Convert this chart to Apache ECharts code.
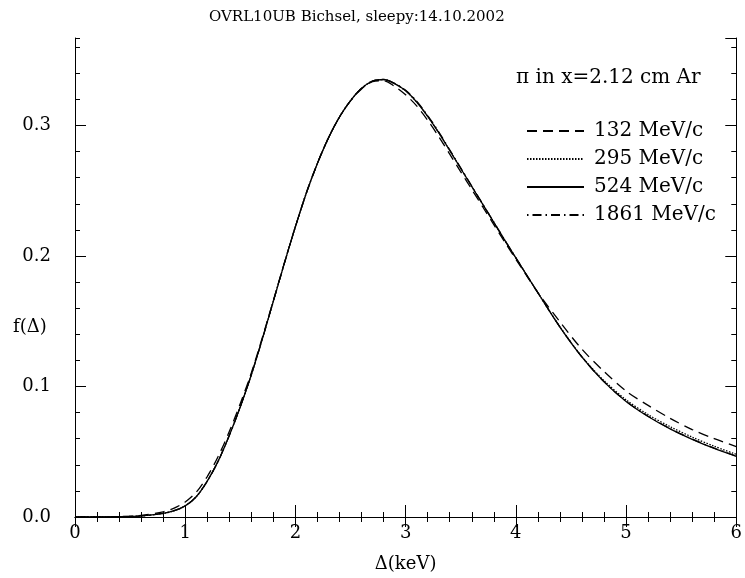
<!DOCTYPE html>
<html>
<head>
<meta charset="utf-8">
<script src="https://cdn.jsdelivr.net/npm/echarts@6/dist/echarts.min.js"></script>
<style>
html,body{margin:0;padding:0;background:#fff;}
#chart{width:745px;height:578px;}
</style>
</head>
<body>
<div id="chart"></div>
<script>
// ---- Data ----
var xValues = [0, 0.2, 0.4, 0.6, 0.8, 0.9, 1.0, 1.1, 1.2, 1.3, 1.4, 1.5, 1.6, 1.7, 1.8, 1.9, 2.0, 2.1, 2.2, 2.3, 2.4, 2.5, 2.6, 2.7, 2.8, 2.9, 3.0, 3.1, 3.2, 3.3, 3.4, 3.5, 3.6, 3.7, 3.8, 3.9, 4.0, 4.2, 4.4, 4.6, 4.8, 5.0, 5.2, 5.4, 5.6, 5.8, 6.0];
var f132  = [0, 0, 0.0003, 0.0012, 0.0040, 0.0068, 0.0115, 0.0190, 0.0310, 0.0465, 0.0655, 0.0870, 0.1105, 0.1375, 0.1660, 0.1948, 0.2225, 0.2485, 0.2710, 0.2905, 0.3065, 0.3188, 0.3280, 0.3335, 0.3343, 0.3300, 0.3235, 0.3150, 0.3040, 0.2915, 0.2780, 0.2645, 0.2510, 0.2375, 0.2240, 0.2105, 0.1975, 0.1720, 0.1495, 0.1285, 0.1115, 0.0965, 0.0855, 0.0756, 0.0670, 0.0600, 0.0540];
var f295  = [0, 0, 0.0002, 0.0008, 0.0028, 0.0048, 0.0085, 0.0155, 0.0275, 0.0430, 0.0625, 0.0845, 0.1090, 0.1365, 0.1655, 0.1945, 0.2225, 0.2485, 0.2710, 0.2905, 0.3065, 0.3190, 0.3285, 0.3340, 0.3352, 0.3320, 0.3265, 0.3180, 0.3070, 0.2945, 0.2808, 0.2670, 0.2532, 0.2395, 0.2258, 0.2120, 0.1985, 0.1718, 0.1457, 0.1228, 0.1045, 0.0898, 0.0785, 0.0692, 0.0612, 0.0542, 0.0480];
var f524  = [0, 0, 0.0002, 0.0008, 0.0028, 0.0048, 0.0085, 0.0155, 0.0275, 0.0430, 0.0625, 0.0845, 0.1090, 0.1365, 0.1655, 0.1945, 0.2225, 0.2485, 0.2710, 0.2905, 0.3065, 0.3190, 0.3285, 0.3340, 0.3352, 0.3320, 0.3265, 0.3180, 0.3070, 0.2945, 0.2808, 0.2670, 0.2532, 0.2395, 0.2258, 0.2120, 0.1985, 0.1718, 0.1455, 0.1225, 0.1035, 0.0885, 0.0770, 0.0675, 0.0595, 0.0525, 0.0465];
var f1861 = [0, 0, 0.0002, 0.0008, 0.0028, 0.0048, 0.0085, 0.0155, 0.0275, 0.0430, 0.0625, 0.0845, 0.1090, 0.1365, 0.1655, 0.1945, 0.2225, 0.2485, 0.2710, 0.2905, 0.3065, 0.3190, 0.3285, 0.3340, 0.3352, 0.3323, 0.3270, 0.3186, 0.3076, 0.2951, 0.2813, 0.2675, 0.2536, 0.2397, 0.2259, 0.2121, 0.1986, 0.1718, 0.1456, 0.1226, 0.1037, 0.0887, 0.0772, 0.0677, 0.0597, 0.0527, 0.0467];
var seriesNames = ['132 MeV/c', '295 MeV/c', '524 MeV/c', '1861 MeV/c'];
var xTicks = [0, 1, 2, 3, 4, 5, 6];
var yTicks = [0.0, 0.1, 0.2, 0.3];

var FONT = 'DejaVu Serif';
function zip(xs, ys) { return xs.map(function (x, i) { return [x, ys[i]]; }); }

var dashStyles = [[10, 6], [1.5, 1.5], 'solid', [1.5, 4, 9, 4]];
var allY = [f132, f295, f524, f1861];

var series = allY.map(function (ys, i) {
  return {
    name: seriesNames[i],
    type: 'line',
    xAxisIndex: 0,
    yAxisIndex: 0,
    symbol: 'none',
    smooth: 0.3,
    data: zip(xValues, ys),
    lineStyle: { color: '#000', width: 1.3, type: dashStyles[i] },
    itemStyle: { color: '#000' },
    z: 10 - i
  };
});

var chart = echarts.init(document.getElementById('chart'), null, { renderer: 'canvas' });
var yMax = 0.367;
chart.setOption({
  animation: false,
  backgroundColor: '#fff',
  title: [
    { text: 'OVRL10UB Bichsel, sleepy:14.10.2002', left: 204, top: 5,
      textStyle: { fontFamily: FONT, fontSize: 15, fontWeight: 'normal', color: '#000' } },
    { text: 'π in x=2.12 cm Ar', left: 511, top: 63,
      textStyle: { fontFamily: FONT, fontSize: 20, fontWeight: 'normal', color: '#000' } },
    { text: 'f(Δ)', left: 8, top: 313,
      textStyle: { fontFamily: FONT, fontSize: 18, fontWeight: 'normal', color: '#000' } }
  ],
  legend: {
    orient: 'vertical',
    left: 521,
    top: 116,
    itemWidth: 57,
    itemHeight: 14,
    itemGap: 8,
    data: seriesNames,
    itemStyle: { opacity: 0, color: 'rgba(0,0,0,0)', borderWidth: 0 },
    textStyle: { fontFamily: FONT, fontSize: 20, color: '#000', padding: [0, 0, 0, 5] },
    selectedMode: false
  },
  grid: { left: 75, top: 38, width: 665, height: 481, containLabel: false },
  xAxis: [
    {
      type: 'value', position: 'bottom', min: 0, max: 6, interval: 1,
      name: 'Δ(keV)', nameLocation: 'middle', nameGap: 38,
      nameTextStyle: { fontFamily: FONT, fontSize: 18, color: '#000' },
      axisLine: { show: true, lineStyle: { color: '#000', width: 1 } },
      axisTick: { show: true, inside: true, length: 12, lineStyle: { color: '#000' } },
      minorTick: { show: true, splitNumber: 5, length: 5, lineStyle: { color: '#000' } },
      splitLine: { show: false },
      axisLabel: { fontFamily: FONT, fontSize: 18, color: '#000', margin: 7,
        formatter: function (v) { return xTicks.indexOf(v) >= 0 ? String(v) : ''; } }
    },
    {
      type: 'value', position: 'top', min: 0, max: 6, interval: 1,
      axisLine: { show: true, lineStyle: { color: '#000', width: 1 } },
      axisTick: { show: true, inside: true, length: 10, lineStyle: { color: '#000' } },
      minorTick: { show: true, splitNumber: 5, length: 5, lineStyle: { color: '#000' } },
      splitLine: { show: false },
      axisLabel: { show: false }
    }
  ],
  yAxis: [
    {
      type: 'value', position: 'left', min: 0, max: yMax, interval: 0.1,
      axisLine: { show: true, lineStyle: { color: '#000', width: 1 } },
      axisTick: { show: true, inside: true, length: 11, lineStyle: { color: '#000' } },
      splitLine: { show: false },
      axisLabel: { fontFamily: FONT, fontSize: 18, color: '#000', margin: 24, showMaxLabel: false,
        formatter: function (v) {
          for (var i = 0; i < yTicks.length; i++) { if (Math.abs(v - yTicks[i]) < 1e-6) return yTicks[i].toFixed(1); }
          return '';
        } }
    },
    {
      type: 'value', position: 'left', min: 0, max: yMax, interval: 0.02,
      axisLine: { show: false },
      axisTick: { show: true, inside: true, length: 5, lineStyle: { color: '#000' } },
      splitLine: { show: false },
      axisLabel: { show: false }
    },
    {
      type: 'value', position: 'right', min: 0, max: yMax, interval: 0.1,
      axisLine: { show: true, lineStyle: { color: '#000', width: 1 } },
      axisTick: { show: true, inside: true, length: 11, lineStyle: { color: '#000' } },
      splitLine: { show: false },
      axisLabel: { show: false }
    },
    {
      type: 'value', position: 'right', min: 0, max: yMax, interval: 0.02,
      axisLine: { show: false },
      axisTick: { show: true, inside: true, length: 5, lineStyle: { color: '#000' } },
      splitLine: { show: false },
      axisLabel: { show: false }
    }
  ],
  series: series
});
</script>
</body>
</html>
